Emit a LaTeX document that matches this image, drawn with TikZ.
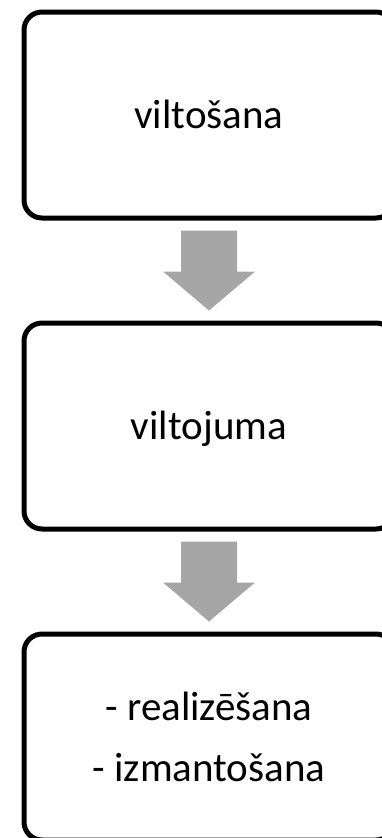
\documentclass[tikz,border=0pt]{standalone}
\usepackage{fontspec}
\setmainfont{Carlito}
\usetikzlibrary{
  calc, % For coordinate calculations
  positioning % For relative placement
}
\definecolor{arrowgray}{HTML}{A6A6A6}

\begin{document}
\begin{tikzpicture}[
      stage/.style={draw=black, line width=5pt, rounded corners=18pt,
        minimum width=370pt, minimum height=206pt, inner sep=0pt, outer sep=0pt,
        align=center, font=\fontsize{41}{61}\selectfont,
        text height=27pt, text depth=0pt}, % Style for the boxes
      flow/.style={fill=arrowgray}, % Style for the block arrows
      node distance=105pt,
    ]
    \useasboundingbox (0,0) rectangle (381pt,-838pt);

    % Stufen
    \node[stage] (fake) at (209pt,-115pt) {viltošana};
    \node[stage, below=of fake] (result) {viltojuma};
    \node[stage, below=of result, text height=88pt] (use) {- realizēšana\\- izmantošana};

    % Pfeile zwischen den Stufen
    \foreach \i/\j in {fake/result, result/use}
    \fill[flow] ($(\i.south)!0.5!(\j.north)$) ++(-28pt,40pt) -- ++(56pt,0)
      -- ++(0,-41pt) -- ++(18pt,0) -- ++(-46pt,-39pt) -- ++(-46pt,39pt)
      -- ++(18pt,0) -- cycle;
\end{tikzpicture}
\end{document}
